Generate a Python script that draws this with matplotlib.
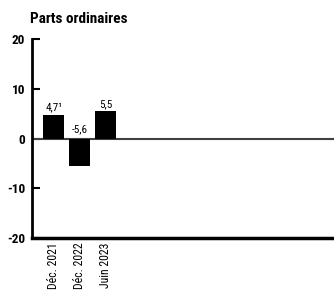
import matplotlib
matplotlib.use('Agg')
import matplotlib.pyplot as plt

plt.rcParams['font.family'] = ['Roboto Condensed', 'DejaVu Sans']

# data
categories = ['Déc. 2021', 'Déc. 2022', 'Juin 2023']
values = [4.7, -5.6, 5.5]
value_labels = ['4,7¹', '-5,6', '5,5']
yticks = [-20, -10, 0, 10, 20]

fig = plt.figure(figsize=(3.34, 2.92), dpi=100)
ax = fig.add_axes([0.096, 0.185, 0.904, 0.681])

x = list(range(len(categories)))
ax.bar(x, values, width=0.8, color='black', zorder=3)
ax.axhline(0, color='#404040', linewidth=1.5, zorder=2)

for xi, v, lab in zip(x, values, value_labels):
    y = v + 0.4 if v > 0 else 0.8
    ax.text(xi, y, lab, ha='center', va='bottom', fontsize=8)

ax.set_xlim(-0.83, 10.79)
ax.set_ylim(-20, 20)
ax.set_yticks(yticks)
ax.set_yticklabels([str(t) for t in yticks], fontsize=9.5, fontweight='bold')
ax.set_xticks(x)
ax.set_xticklabels(categories, rotation=90, fontsize=8.5)
ax.tick_params(axis='x', length=0, pad=3.5)
ax.tick_params(axis='y', direction='in', length=6, width=1.5, pad=5)

for s in ['top', 'right']:
    ax.spines[s].set_visible(False)
ax.spines['left'].set_linewidth(2)
ax.spines['bottom'].set_linewidth(2.5)

fig.text(0.09, 0.935, 'Parts ordinaires', fontsize=11, fontweight='bold',
         ha='left', va='center')

fig.savefig('out.png', dpi=100)
